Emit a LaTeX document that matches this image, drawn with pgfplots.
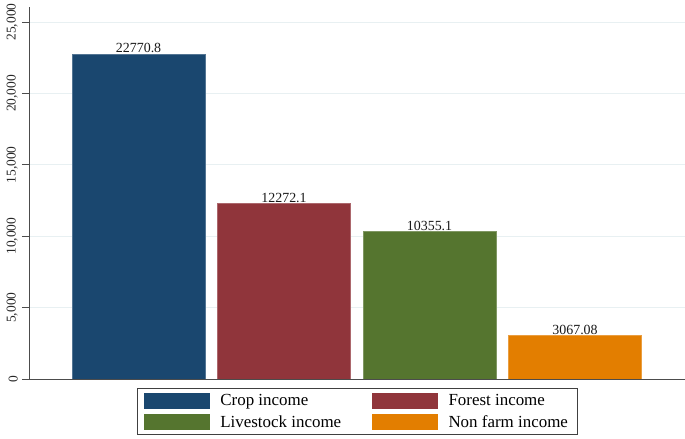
\documentclass[border=0pt]{standalone}
\usepackage{pgfplots}
\pgfplotsset{compat=1.18}
\usepackage{fontspec}
\setmainfont{Liberation Serif}
\definecolor{snavy}{RGB}{26,71,111}
\definecolor{smaroon}{RGB}{144,53,59}
\definecolor{sgreen}{RGB}{85,117,47}
\definecolor{sorange}{RGB}{227,126,0}
\definecolor{sgrid}{RGB}{232,240,242}
\pgfplotsset{
  mybar/.style={ybar, bar width=0.914, bar shift=0pt, fill=#1, draw=#1!75!white, line width=0.6bp,
    nodes near coords, point meta=explicit symbolic,
    legend image code/.code={\path[fill=none,draw=none] (0bp,-10.5bp) rectangle (74bp,10.5bp); \fill[#1] (0bp,-7.5bp) rectangle (65bp,7.5bp);}},
}
\begin{document}
\begin{tikzpicture}[font=\rmfamily]
\useasboundingbox (0,0) rectangle (685bp,439bp);
\begin{axis}[
  at={(29bp,60bp)}, anchor=south west,
  scale only axis, width=656bp, height=372bp,
  xmin=0.247, xmax=4.756, ymin=0, ymax=26050,
  axis x line*=bottom, axis y line*=left,
  axis line style={-, black!70, line width=0.8bp},
  xtick=\empty,
  ytick={0,5000,10000,15000,20000,25000},
  scaled y ticks=false,
  ymajorgrids, grid style={sgrid, line width=0.8bp},
  tick style={black!70, line width=0.8bp},
  tick align=outside, major tick length=7bp,
  /pgf/number format/.cd, 1000 sep={,}, assume math mode=true, /pgfplots/.cd,
  yticklabel style={rotate=90, anchor=south, inner sep=0pt, font=\rmfamily\fontsize{13.5}{14}\selectfont, text=black!85},
  yticklabel shift=4bp,
  nodes near coords style={anchor=base, inner sep=0pt, yshift=1bp, font=\rmfamily\fontsize{14}{15}\selectfont, text=black!90},
  legend style={at={(0.5,-0.0242)}, anchor=north, legend columns=2, draw=black!75, line width=0.8bp,
    font=\rmfamily\fontsize{17}{19}\selectfont, inner xsep=7bp, inner ysep=2bp, row sep=0bp,
    /tikz/every even column/.append style={column sep=29bp}},
  legend cell align=left,
]
\addplot[mybar=snavy] coordinates {(1,22770.8) [22770.8]};
\addlegendentry{Crop income}
\addplot[mybar=smaroon] coordinates {(2,12272.1) [12272.1]};
\addlegendentry{Forest income}
\addplot[mybar=sgreen] coordinates {(3,10355.1) [10355.1]};
\addlegendentry{Livestock income}
\addplot[mybar=sorange] coordinates {(4,3067.08) [3067.08]};
\addlegendentry{Non farm income}
\end{axis}
\end{tikzpicture}
\end{document}
